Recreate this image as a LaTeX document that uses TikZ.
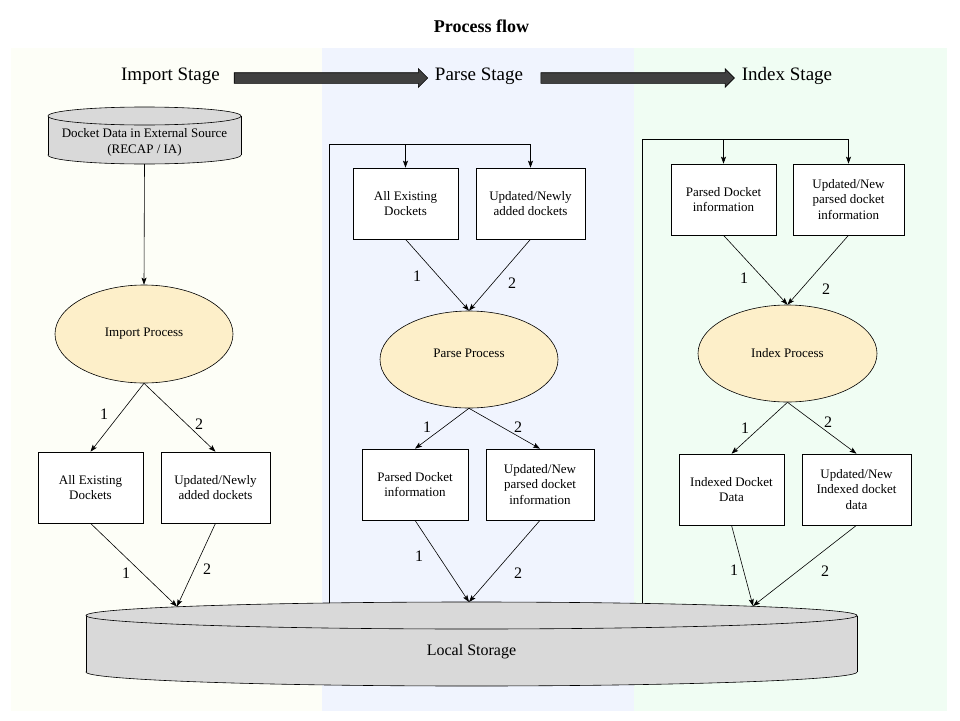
\documentclass[tikz,border=0pt]{standalone}
\usepackage{fontspec}
\setmainfont{Liberation Serif}
\usetikzlibrary{shapes.geometric,shapes.arrows,arrows.meta}
\definecolor{panelA}{HTML}{FDFEF7}
\definecolor{panelB}{HTML}{F0F4FE}
\definecolor{panelC}{HTML}{F0FDF3}
\definecolor{procfill}{HTML}{FDEFC9}
\definecolor{cylfill}{HTML}{D9D9D9}
\definecolor{arrfill}{HTML}{404040}
\begin{document}
\begin{tikzpicture}[x=1pt,y=-1pt,
  box/.style={draw, fill=white, align=center, inner sep=0pt, minimum height=71pt, line width=0.6pt, font=\fontsize{13}{15.5}\selectfont},
  proc/.style={ellipse, draw, fill=procfill, inner sep=0pt, minimum width=178pt, minimum height=97pt, line width=0.6pt, font=\fontsize{13}{15}\selectfont},
  flow/.style={-{Stealth[length=7pt,width=5pt,inset=1.5pt]}, line width=0.6pt},
  frame/.style={line width=0.6pt},
  num/.style={font=\fontsize{16}{18}\selectfont, inner sep=0pt},
  stage/.style={font=\fontsize{19}{22}\selectfont, inner sep=0pt},
  cyl/.style={fill=cylfill, draw=black, line width=0.6pt},
  bigarrow/.style={single arrow, draw=black, fill=arrfill, line width=0.6pt, minimum height=193.5pt, minimum width=18pt, single arrow head extend=4pt, inner sep=5pt, single arrow head indent=0pt}
]
\useasboundingbox (0,0) rectangle (960,720);
\fill[white] (0,0) rectangle (960,720);
% panels
\fill[panelA] (11,48) rectangle (322,711);
\fill[panelB] (322,48) rectangle (634,711);
\fill[panelC] (634,48) rectangle (947,711);

% title and stages
\node[font=\bfseries\fontsize{18}{20}\selectfont] (title) at (481.5,26) {Process flow};
\node[stage] (s1) at (170.5,76) {Import Stage};
\node[stage] (s2) at (479,76) {Parse Stage};
\node[stage] (s3) at (787,76) {Index Stage};
\node[bigarrow] (ar1) at (328.3,78) {};
\node[bigarrow] (ar2) at (635,78) {};

% external source cylinder
\filldraw[cyl] (144.5,155) ellipse [x radius=96.5, y radius=9];
\fill[cylfill] (48,116) rectangle (241,155);
\draw[frame] (48,116) -- (48,155) (241,116) -- (241,155);
\filldraw[cyl] (144.5,116) ellipse [x radius=96.5, y radius=9];
\node[font=\fontsize{13}{16}\selectfont, align=center, inner sep=0pt] (ext) at (144.5,142) {Docket Data in External Source\\(RECAP / IA)};
\coordinate (extb) at (144.5,164);

% local storage cylinder
\filldraw[cyl] (471.5,672) ellipse [x radius=385.5, y radius=14];
\fill[cylfill] (86,615.5) rectangle (857,672);
\draw[frame] (86,615.5) -- (86,672) (857,615.5) -- (857,672);
\filldraw[cyl] (471.5,615.5) ellipse [x radius=385.5, y radius=13.5];
\node[font=\fontsize{16}{18}\selectfont] (store) at (471.5,652) {Local Storage};
\coordinate (stL) at (177,606.5);
\coordinate (stM) at (469,602);
\coordinate (stR) at (753,606);
\coordinate (fM) at (329,603);
\coordinate (tM) at (329,144);
\coordinate (fR) at (642,603);
\coordinate (tR) at (642,139);

% import stage
\node[proc, minimum height=98pt] (imp) at (144,334) {Import Process};
\node[box, minimum width=105pt] (la1) at (90.5,487.5) {All Existing\\Dockets};
\node[box, minimum width=109pt] (la2) at (215.5,487.5) {Updated/Newly\\added dockets};
\draw[flow] (extb) -- (imp.north);
\draw[flow] (imp.south) -- (la1.north);
\draw[flow] (imp.south) -- (la2.north);
\draw[flow] (la1.south) -- (stL);
\draw[flow] (la2.south) -- (stL);
\node[num] (n1) at (104,414) {1};
\node[num] (n2) at (199,424) {2};
\node[num] (n3) at (126,573) {1};
\node[num] (n4) at (207,569) {2};

% parse stage
\node[box, minimum width=105pt] (pb1) at (405.5,203.5) {All Existing\\Dockets};
\node[box, minimum width=109pt] (pb2) at (530.5,203.5) {Updated/Newly\\added dockets};
\node[proc, label={[font=\fontsize{13}{15}\selectfont, inner sep=0pt, yshift=6.5pt]center:Parse Process}] (pp) at (469,359.5) {};
\node[box, minimum width=106pt] (pc1) at (415,484.5) {Parsed Docket\\information};
\node[box, minimum width=108pt] (pc2) at (540,484.5) {Updated/New\\parsed docket\\information};
\draw[flow] (fM) |- (pb2.north |- tM) -- (pb2.north);
\draw[flow] (pb1.north |- tM) -- (pb1.north);
\draw[flow] (pb1.south) -- (pp.north);
\draw[flow] (pb2.south) -- (pp.north);
\draw[flow] (pp.south) -- (pc1.north);
\draw[flow] (pp.south) -- (pc2.north);
\draw[flow] (pc1.south) -- (stM);
\draw[flow] (pc2.south) -- (stM);
\node[num] (n5) at (417,276) {1};
\node[num] (n6) at (512,283) {2};
\node[num] (n7) at (427,427) {1};
\node[num] (n8) at (518,427) {2};
\node[num] (n9) at (419,556) {1};
\node[num] (n10) at (518,573) {2};

% index stage
\node[box, minimum width=105pt] (ib1) at (723.5,199.5) {Parsed Docket\\information};
\node[box, minimum width=111pt] (ib2) at (848.5,199.5) {Updated/New\\parsed docket\\information};
\node[proc, minimum width=179pt] (ip) at (787.5,353.5) {Index Process};
\node[box, minimum width=105pt] (ic1) at (731.5,489.5) {Indexed Docket\\Data};
\node[box, minimum width=109pt] (ic2) at (856.5,489.5) {Updated/New\\Indexed docket\\data};
\draw[flow] (fR) |- (ib2.north |- tR) -- (ib2.north);
\draw[flow] (ib1.north |- tR) -- (ib1.north);
\draw[flow] (ib1.south) -- (ip.north);
\draw[flow] (ib2.south) -- (ip.north);
\draw[flow] (ip.south) -- (ic1.north);
\draw[flow] (ip.south) -- (ic2.north);
\draw[flow] (ic1.south) -- (stR);
\draw[flow] (ic2.south) -- (stR);
\node[num] (n11) at (744,278) {1};
\node[num] (n12) at (826,289) {2};
\node[num] (n13) at (745,428) {1};
\node[num] (n14) at (828,422) {2};
\node[num] (n15) at (734,570) {1};
\node[num] (n16) at (825,571) {2};
\end{tikzpicture}
\end{document}
